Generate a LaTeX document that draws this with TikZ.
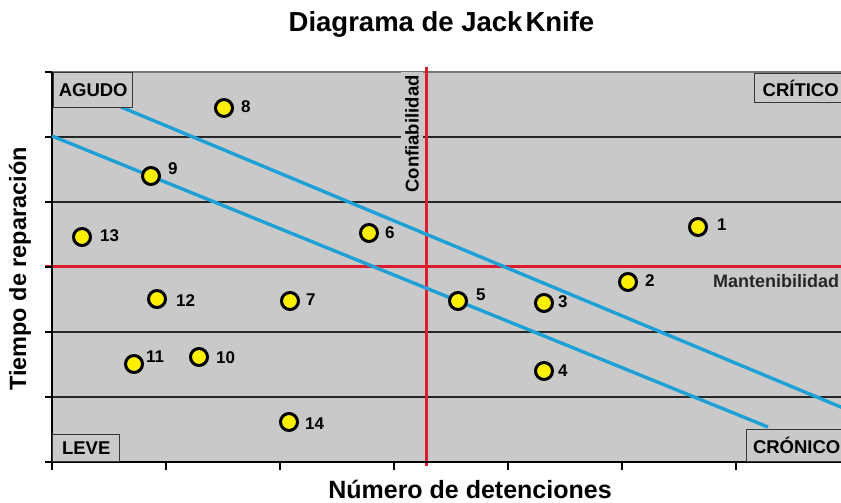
\documentclass[tikz,border=0pt]{standalone}
\usepackage{fontspec}
\setmainfont{Liberation Sans}
\definecolor{plotgray}{RGB}{201,201,201}
\definecolor{bandblue}{RGB}{30,160,215}
\definecolor{limred}{RGB}{222,28,45}
\definecolor{ptyellow}{RGB}{255,240,0}
\definecolor{boxedge}{RGB}{55,55,55}
\definecolor{framegray}{RGB}{120,120,120}
\tikzset{
  ptmark/.style={circle, draw=black, line width=3pt, fill=ptyellow, minimum size=17pt, inner sep=0pt},
  numlabel/.style={anchor=west, inner sep=0pt, font=\fontsize{17}{17}\selectfont\bfseries},
  zonebox/.style={draw=boxedge, line width=1.4pt, fill=plotgray, inner sep=0pt, font=\fontsize{18.5}{18.5}\selectfont\bfseries},
  gridline/.style={line width=2.1pt, black!85},
  axisline/.style={line width=2.1pt, black},
  bandline/.style={bandblue, line width=3.4pt},
  limitline/.style={limred, line width=3pt},
}
\begin{document}
\begin{tikzpicture}[x=1pt, y=-1pt]
\clip (0,0) rectangle (841,503);
\useasboundingbox (0,0) rectangle (841,503);
% plot area
\fill[plotgray] (52,72) rectangle (860,462);
\draw[framegray, line width=1.6pt] (52,72) -- (860,72);
\foreach \yy in {137,202,332,397} \draw[gridline] (52,\yy) -- (860,\yy);
% limit lines
\draw[limitline] (45,266) -- (860,266);
\node[rotate=90, fill=plotgray, inner xsep=3pt, inner ysep=4pt, font=\fontsize{18.5}{18.5}\selectfont\bfseries] (conf) at (412,134) {Confiabilidad};
\draw[limitline] (426,67) -- (426,466);
\node[anchor=west, inner sep=0pt, text=black!85, font=\fontsize{18}{18}\selectfont\bfseries] (mant) at (713,281) {Mantenibilidad};
% axes
\draw[axisline] (52,72) -- (52,462) -- (860,462);
\foreach \yy in {72,137,202,267,332,397,462} \draw[axisline] (45,\yy) -- (52,\yy);
\foreach \xx in {52,166,280,394,508,622,736} \draw[axisline] (\xx,462) -- (\xx,470);
% band lines
\coordinate (u1) at (121,107);
\coordinate (u2) at (860,415);
\coordinate (l1) at (52,136);
\coordinate (l2) at (768,427);
\draw[bandline] (u1) -- (u2);
\draw[bandline] (l1) -- (l2);
% zone boxes
\node[zonebox, anchor=north west, minimum width=79pt, minimum height=35pt] (agudo) at (53,72) {AGUDO};
\node[zonebox, anchor=south west, minimum width=67pt, minimum height=27pt] (leve) at (52,462) {LEVE};
\node[zonebox, anchor=north west, minimum width=92pt, minimum height=29pt] (critico) at (754,73) {CRÍTICO};
\node[zonebox, anchor=south west, minimum width=100pt, minimum height=32pt] (cronico) at (746,462) {CRÓNICO};
% points
\node[ptmark] (p1) at (698,227) {};
\node[ptmark] (p2) at (628,282) {};
\node[ptmark] (p3) at (544,303) {};
\node[ptmark] (p4) at (544,371) {};
\node[ptmark] (p5) at (458,301) {};
\node[ptmark] (p6) at (369,233) {};
\node[ptmark] (p7) at (290,301) {};
\node[ptmark] (p8) at (224,108) {};
\node[ptmark] (p9) at (151,176) {};
\node[ptmark] (p10) at (199,357) {};
\node[ptmark] (p11) at (134,364) {};
\node[ptmark] (p12) at (157,299) {};
\node[ptmark] (p13) at (82,237) {};
\node[ptmark] (p14) at (289,422) {};
% point labels
\node[numlabel] (n1) at (717,225) {1};
\node[numlabel] (n2) at (645,281) {2};
\node[numlabel] (n3) at (558,302) {3};
\node[numlabel] (n4) at (558,371) {4};
\node[numlabel] (n5) at (476,295) {5};
\node[numlabel] (n6) at (385,233) {6};
\node[numlabel] (n7) at (306,300) {7};
\node[numlabel] (n8) at (241,107) {8};
\node[numlabel] (n9) at (168,169) {9};
\node[numlabel] (n10) at (216,358) {10};
\node[numlabel] (n11) at (146,357) {11};
\node[numlabel] (n12) at (176,301) {12};
\node[numlabel] (n13) at (100,236) {13};
\node[numlabel] (n14) at (305,424) {14};
% titles
\node[anchor=base, inner sep=0pt, font=\fontsize{27.5}{27.5}\selectfont\bfseries] (title) at (441.5,32) {Diagrama de Jack\hspace{3pt}Knife};
\node[rotate=90, inner sep=0pt, font=\fontsize{23.5}{23.5}\selectfont\bfseries] (ylab) at (20,269) {Tiempo de reparación};
\node[anchor=base, inner sep=0pt, font=\fontsize{25}{25}\selectfont\bfseries] (xlab) at (470,498) {Número de detenciones};
\end{tikzpicture}
\end{document}
